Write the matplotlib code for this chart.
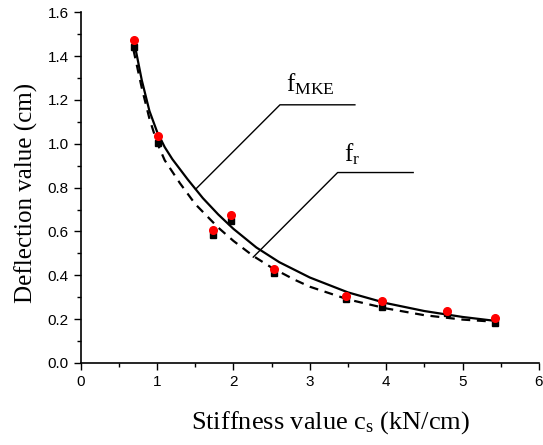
import numpy as np
import matplotlib.pyplot as plt

plt.rcParams['font.family'] = ['Liberation Sans', 'DejaVu Sans']
plt.rcParams['mathtext.fontset'] = 'custom'
plt.rcParams['mathtext.rm'] = 'Liberation Serif'
plt.rcParams['mathtext.it'] = 'Liberation Serif:italic'

# measured points
cs = [0.70, 1.01, 1.73, 1.97, 2.53, 3.47, 3.95, 4.80, 5.43]
f_mke_pts = [1.476, 1.037, 0.607, 0.676, 0.429, 0.307, 0.284, 0.239, 0.205]
f_r_pts = [1.44, 1.006, 0.586, 0.65, 0.41, 0.29, 0.257, 0.228, 0.184]

# fitted curves
fit_mke_x = [0.70, 0.80, 0.90, 1.00, 1.10, 1.20, 1.40, 1.60, 1.80, 2.00, 2.30, 2.60, 3.00, 3.50, 4.00, 4.50, 5.00, 5.43]
fit_mke_y = [1.465, 1.29, 1.15, 1.055, 0.985, 0.93, 0.838, 0.752, 0.678, 0.612, 0.527, 0.46, 0.39, 0.322, 0.273, 0.237, 0.21, 0.192]
fit_r_x = [0.69, 0.80, 0.90, 1.00, 1.10, 1.30, 1.50, 1.80, 2.00, 2.26, 2.50, 2.80, 3.00, 3.50, 4.00, 4.50, 5.00, 5.43]
fit_r_y = [1.43, 1.255, 1.115, 1.005, 0.925, 0.82, 0.725, 0.618, 0.557, 0.488, 0.435, 0.38, 0.348, 0.29, 0.249, 0.218, 0.198, 0.188]

fig = plt.figure(figsize=(5.43, 4.45), dpi=100)
ax = fig.add_axes([0.1486, 0.1843, 0.844, 0.788])

ax.plot(fit_mke_x, fit_mke_y, color='k', lw=1.6, ls='-')
ax.plot(fit_r_x, fit_r_y, color='k', lw=1.6, ls=(0, (4, 3)))
ax.plot(cs, f_r_pts, 's', color='k', ms=5, zorder=3)
ax.plot(cs, f_mke_pts, 'o', color='red', ms=5.5, zorder=4)

# leader lines to the curves
ax.plot([1.505, 2.609, 3.59], [0.793, 1.178, 1.178], color='k', lw=1)
ax.plot([2.259, 3.364, 4.353], [0.483, 0.869, 0.869], color='k', lw=1)
ax.text(2.69, 1.24, r'$\mathrm{f}_{\mathrm{MKE}}$', fontsize=18)
ax.text(3.45, 0.92, r'$\mathrm{f}_{\mathrm{r}}$', fontsize=18)

ax.set_xlim(0, 6)
ax.set_ylim(0, 1.6)
ax.set_xticks(np.arange(0, 7, 1))
ax.set_yticks(np.arange(0, 1.61, 0.2))
ax.set_yticklabels(['%.1f' % v for v in np.arange(0, 1.61, 0.2)])
ax.set_xticks(np.arange(0.5, 6, 1), minor=True)
ax.set_yticks(np.arange(0.1, 1.6, 0.2), minor=True)
ax.tick_params(which='major', length=5, width=1, labelsize=11)
ax.tick_params(which='minor', length=3, width=1)

ax.spines['top'].set_visible(False)
ax.spines['right'].set_visible(False)
for s in ['left', 'bottom']:
    ax.spines[s].set_linewidth(1.2)

ax.set_xlabel(r'Stiffness value c$_{\mathrm{s}}$ (kN/cm)', family='Liberation Serif', fontsize=19, labelpad=15)
ax.set_ylabel('Deflection value (cm)', family='Liberation Serif', fontsize=18, labelpad=7)
ax.xaxis.label.set_x(0.546)
ax.yaxis.label.set_y(0.485)

fig.savefig('out.png', dpi=100)
